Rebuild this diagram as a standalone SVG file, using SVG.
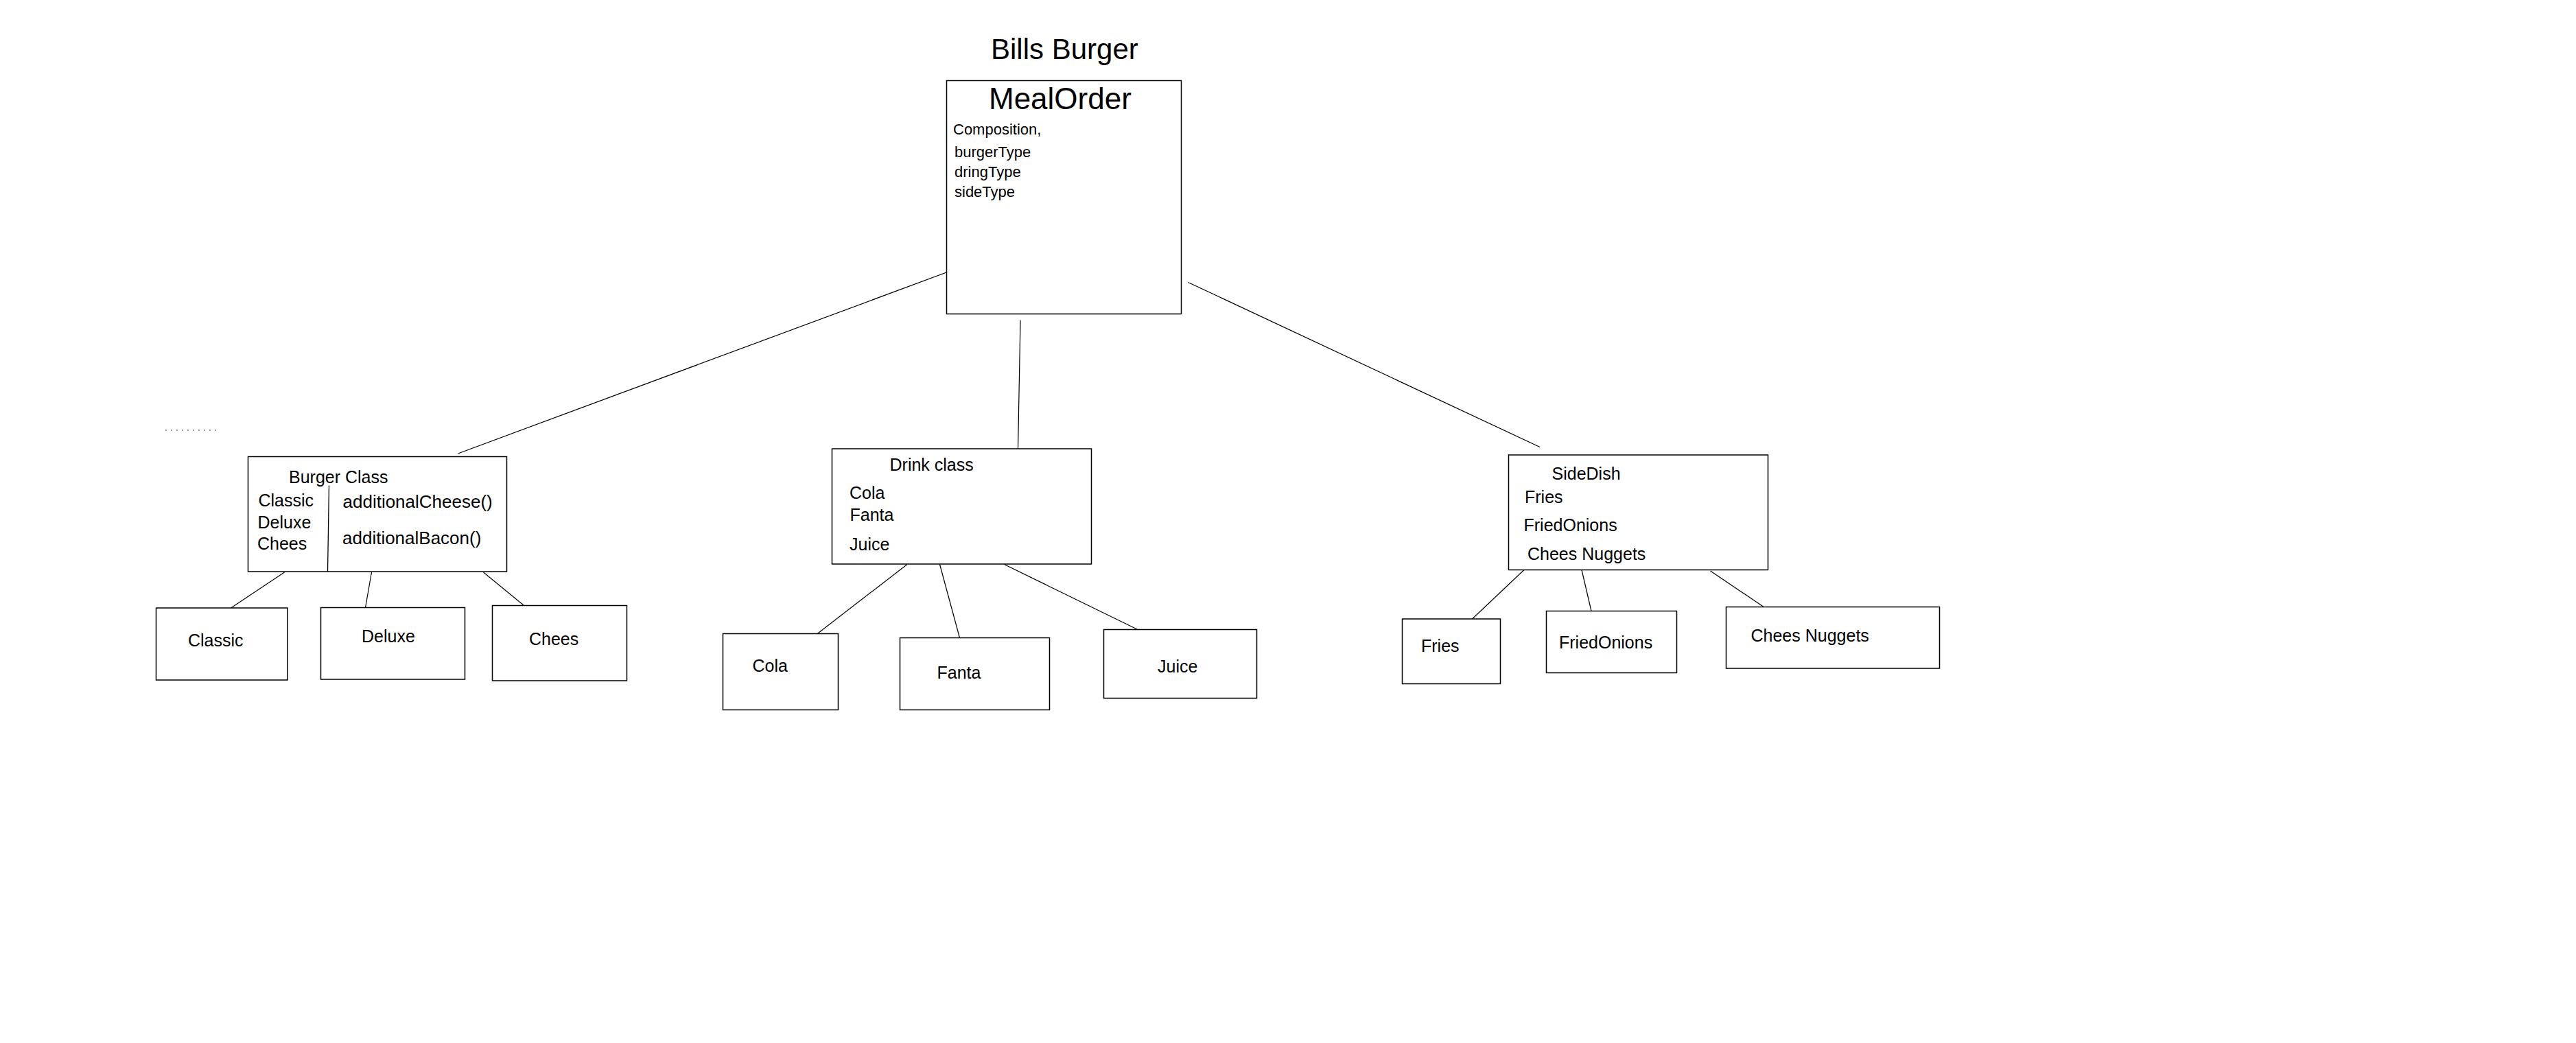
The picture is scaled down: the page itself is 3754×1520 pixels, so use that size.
<svg xmlns="http://www.w3.org/2000/svg" width="3754" height="1520" viewBox="0 0 3754 1520">
<style>
  .box { fill: #ffffff; stroke: #000000; stroke-width: 1.5; }
  .conn line { stroke: #000000; stroke-width: 1.2; }
  text { font-family: "Liberation Sans", Arial, sans-serif; fill: #000000; }
  .title { font-size: 42px; }
  .head { font-size: 44px; }
  .small { font-size: 22px; }
  .lbl { font-size: 25px; }
  .meth { font-size: 26px; }
</style>
<rect x="0" y="0" width="3754" height="1520" fill="#ffffff"/>

<g id="title">
  <text class="title" x="1444" y="86">Bills Burger</text>
</g>

<g id="decor">
  <line x1="241" y1="627" x2="318" y2="627" stroke="#333333" stroke-width="1.2" stroke-dasharray="2,6"/>
</g>

<g id="connectors" class="conn">
  <line x1="1390" y1="393" x2="667.5" y2="661"/>
  <line x1="1487" y1="467" x2="1483.5" y2="654"/>
  <line x1="1731.5" y1="411.5" x2="2244" y2="651.5"/>
  <line x1="414.5" y1="834" x2="336.5" y2="886"/>
  <line x1="541.5" y1="834" x2="532.5" y2="885.5"/>
  <line x1="704.5" y1="834" x2="763" y2="882"/>
  <line x1="1322" y1="822.5" x2="1190.5" y2="924"/>
  <line x1="1369.5" y1="822.5" x2="1398.5" y2="929.5"/>
  <line x1="1463.5" y1="822.5" x2="1657" y2="917"/>
  <line x1="2221" y1="830.5" x2="2145.5" y2="902"/>
  <line x1="2305" y1="830.5" x2="2319" y2="890.5"/>
  <line x1="2492.5" y1="832" x2="2569.5" y2="884"/>
</g>

<g id="mealorder">
  <rect class="box" x="1379.5" y="117.5" width="342" height="340"/>
  <text class="head" x="1441" y="159">MealOrder</text>
  <text class="small" x="1389" y="196">Composition,</text>
  <text class="small" x="1391" y="229">burgerType</text>
  <text class="small" x="1391" y="258">dringType</text>
  <text class="small" x="1391" y="287">sideType</text>
</g>

<g id="burger-class">
  <rect class="box" x="361.5" y="665.5" width="377" height="167.5"/>
  <line x1="479.5" y1="707.5" x2="477.5" y2="833" stroke="#000000" stroke-width="1.3"/>
  <text class="lbl" x="421" y="704">Burger Class</text>
  <text class="lbl" x="376.5" y="738">Classic</text>
  <text class="lbl" x="375.5" y="769.5">Deluxe</text>
  <text class="lbl" x="375" y="801">Chees</text>
  <text class="meth" x="499.5" y="740">additionalCheese()</text>
  <text class="meth" x="499" y="793">additionalBacon()</text>
</g>

<g id="burger-classic">
  <rect class="box" x="227.5" y="886" width="191.5" height="105"/>
  <text class="lbl" x="274" y="942">Classic</text>
</g>
<g id="burger-deluxe">
  <rect class="box" x="467.5" y="885.5" width="210" height="104.5"/>
  <text class="lbl" x="527" y="936">Deluxe</text>
</g>
<g id="burger-chees">
  <rect class="box" x="717.5" y="882.5" width="196" height="109.5"/>
  <text class="lbl" x="771" y="939.5">Chees</text>
</g>

<g id="drink-class">
  <rect class="box" x="1212.5" y="654" width="378" height="168"/>
  <text class="lbl" x="1296.5" y="686">Drink class</text>
  <text class="lbl" x="1238" y="726.5">Cola</text>
  <text class="lbl" x="1238.5" y="759">Fanta</text>
  <text class="lbl" x="1238" y="802">Juice</text>
</g>

<g id="drink-cola">
  <rect class="box" x="1053.5" y="923.5" width="168" height="111"/>
  <text class="lbl" x="1096.5" y="978.5">Cola</text>
</g>
<g id="drink-fanta">
  <rect class="box" x="1311.5" y="929.5" width="218" height="105"/>
  <text class="lbl" x="1365.5" y="988.5">Fanta</text>
</g>
<g id="drink-juice">
  <rect class="box" x="1608.5" y="917.5" width="223" height="100"/>
  <text class="lbl" x="1687" y="980">Juice</text>
</g>

<g id="side-dish">
  <rect class="box" x="2198.5" y="663" width="378" height="167.5"/>
  <text class="lbl" x="2261.5" y="699">SideDish</text>
  <text class="lbl" x="2222" y="732.5">Fries</text>
  <text class="lbl" x="2220.5" y="773.5">FriedOnions</text>
  <text class="lbl" x="2226" y="816">Chees Nuggets</text>
</g>

<g id="side-fries">
  <rect class="box" x="2043.5" y="902" width="143" height="94.5"/>
  <text class="lbl" x="2071" y="949.5">Fries</text>
</g>
<g id="side-friedonions">
  <rect class="box" x="2253.5" y="890.5" width="190" height="90"/>
  <text class="lbl" x="2272" y="944.5">FriedOnions</text>
</g>
<g id="side-cheesnuggets">
  <rect class="box" x="2515.5" y="884.5" width="311" height="89.5"/>
  <text class="lbl" x="2551.5" y="935">Chees Nuggets</text>
</g>
</svg>
